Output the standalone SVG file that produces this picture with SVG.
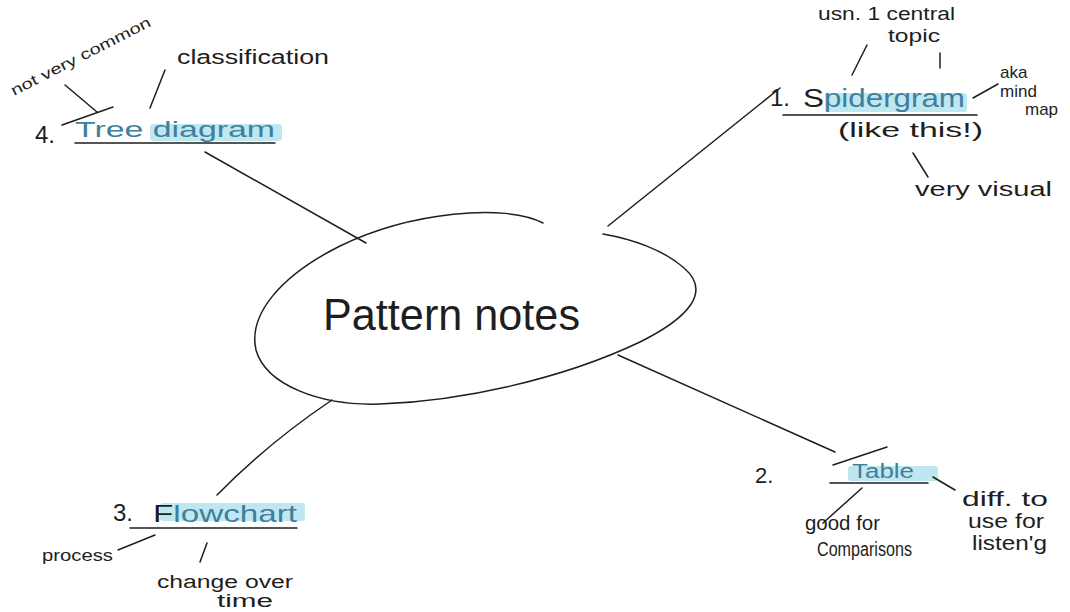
<svg xmlns="http://www.w3.org/2000/svg" width="1070" height="612" viewBox="0 0 1070 612">
<style>
  .ink { fill: none; stroke: #1e1e1e; stroke-width: 1.5; stroke-linecap: round; stroke-linejoin: round; }
  .t { font-family: "Liberation Sans", "DejaVu Sans", sans-serif; fill: #1e1e1e; }
  .hl { fill: #a9dfea; opacity: 0.75; }
  .blue { fill: #3f7f9e; }
</style>
<rect width="1070" height="612" fill="#ffffff"/>

<g id="connectors">
  <line class="ink" x1="608" y1="226" x2="780" y2="88"/>
  <line class="ink" x1="205" y1="152" x2="366" y2="243"/>
  <path class="ink" d="M217 495 Q 268 443 332 400"/>
  <line class="ink" x1="618" y1="355" x2="835" y2="452"/>
</g>

<g id="center">
  <path class="ink" d="M543 223 C 505 203, 410 212, 340 246 C 280 276, 248 315, 256 350 C 266 385, 320 406, 380 404 C 460 401, 560 380, 640 342 C 688 318, 712 292, 684 268 C 664 250, 632 239, 603 234"/>
  <text class="t" x="323" y="330" font-size="44" textLength="257" lengthAdjust="spacingAndGlyphs">Pattern notes</text>
</g>

<g id="spidergram">
  <rect class="hl" x="825" y="93" width="142" height="19" rx="3"/>
  <text class="t" x="770" y="106" font-size="24">1.</text>
  <text class="t" x="803" y="107" font-size="26" textLength="162" lengthAdjust="spacingAndGlyphs"><tspan>S</tspan><tspan class="blue">pidergram</tspan></text>
  <line class="ink" x1="783" y1="115" x2="977" y2="115"/>
  <text class="t" x="838" y="137" font-size="20" textLength="145" lengthAdjust="spacingAndGlyphs">(like this!)</text>
  <text class="t" x="818" y="20" font-size="18" textLength="137" lengthAdjust="spacingAndGlyphs">usn. 1 central</text>
  <text class="t" x="888" y="42" font-size="18" textLength="52" lengthAdjust="spacingAndGlyphs">topic</text>
  <line class="ink" x1="852" y1="75" x2="867" y2="45"/>
  <line class="ink" x1="940" y1="53" x2="940" y2="68"/>
  <text class="t" x="1000" y="78" font-size="17">aka</text>
  <text class="t" x="1000" y="97" font-size="17">mind</text>
  <text class="t" x="1025" y="115" font-size="17">map</text>
  <line class="ink" x1="973" y1="98" x2="998" y2="84"/>
  <line class="ink" x1="913" y1="153" x2="928" y2="177"/>
  <text class="t" x="915" y="196" font-size="20" textLength="137" lengthAdjust="spacingAndGlyphs">very visual</text>
</g>

<g id="tree-diagram">
  <rect class="hl" x="150" y="124" width="132" height="17" rx="3"/>
  <text class="t" x="35" y="143" font-size="24">4.</text>
  <text class="t blue" x="75" y="137" font-size="22" textLength="200" lengthAdjust="spacingAndGlyphs">Tree diagram</text>
  <line class="ink" x1="75" y1="143" x2="275" y2="143"/>
  <text class="t" x="177" y="64" font-size="20" textLength="152" lengthAdjust="spacingAndGlyphs">classification</text>
  <line class="ink" x1="150" y1="108" x2="165" y2="70"/>
  <text class="t" x="14" y="96" font-size="15" textLength="155" lengthAdjust="spacingAndGlyphs" transform="rotate(-27 14 96)">not very common</text>
  <line class="ink" x1="65" y1="85" x2="97" y2="112"/>
  <line class="ink" x1="113" y1="107" x2="62" y2="125"/>
</g>

<g id="flowchart">
  <rect class="hl" x="160" y="503" width="145" height="18" rx="3"/>
  <text class="t" x="113" y="521" font-size="24">3.</text>
  <text class="t" x="153" y="522" font-size="24" textLength="144" lengthAdjust="spacingAndGlyphs"><tspan>F</tspan><tspan class="blue">lowchart</tspan></text>
  <line class="ink" x1="130" y1="528" x2="297" y2="528"/>
  <text class="t" x="42" y="561" font-size="17" textLength="71" lengthAdjust="spacingAndGlyphs">process</text>
  <line class="ink" x1="118" y1="550" x2="155" y2="535"/>
  <line class="ink" x1="200" y1="562" x2="207" y2="543"/>
  <text class="t" x="157" y="588" font-size="18" textLength="136" lengthAdjust="spacingAndGlyphs">change over</text>
  <text class="t" x="217" y="607" font-size="18" textLength="56" lengthAdjust="spacingAndGlyphs">time</text>
</g>

<g id="table">
  <rect class="hl" x="848" y="466" width="90" height="15" rx="3"/>
  <text class="t" x="755" y="483" font-size="22">2.</text>
  <text class="t blue" x="852" y="478" font-size="20" textLength="62" lengthAdjust="spacingAndGlyphs">Table</text>
  <line class="ink" x1="833" y1="465" x2="887" y2="447"/>
  <line class="ink" x1="830" y1="483" x2="928" y2="483"/>
  <line class="ink" x1="823" y1="523" x2="862" y2="488"/>
  <text class="t" x="805" y="530" font-size="20" textLength="75" lengthAdjust="spacingAndGlyphs">good for</text>
  <text class="t" x="817" y="556" font-size="20" textLength="95" lengthAdjust="spacingAndGlyphs">Comparisons</text>
  <line class="ink" x1="933" y1="477" x2="955" y2="490"/>
  <text class="t" x="962" y="506" font-size="20" textLength="86" lengthAdjust="spacingAndGlyphs">diff. to</text>
  <text class="t" x="968" y="528" font-size="20" textLength="76" lengthAdjust="spacingAndGlyphs">use for</text>
  <text class="t" x="972" y="550" font-size="20" textLength="75" lengthAdjust="spacingAndGlyphs">listen'g</text>
</g>
</svg>
